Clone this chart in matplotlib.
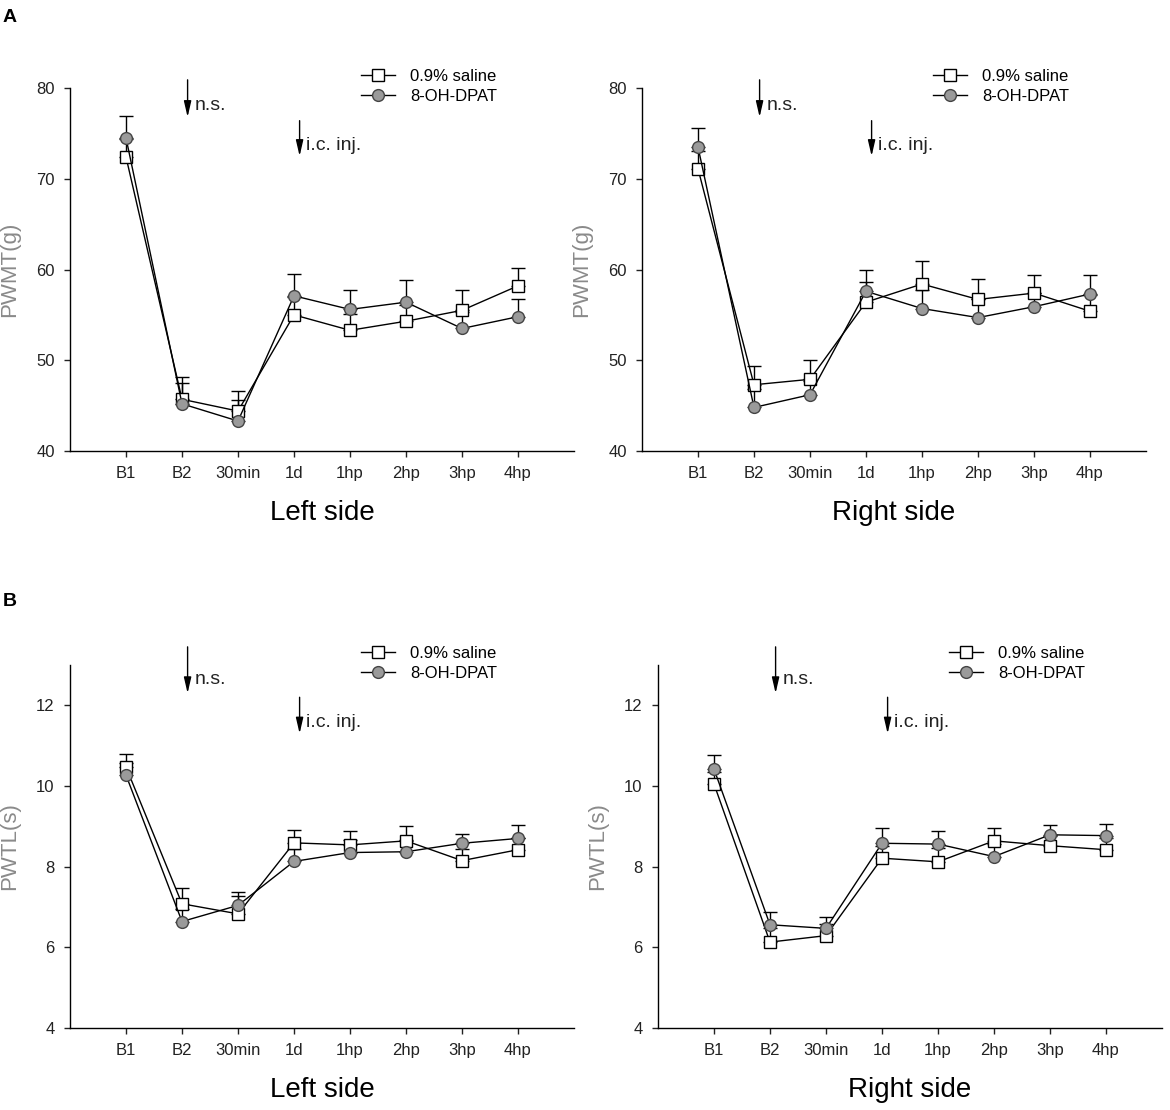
import numpy as np
import matplotlib
matplotlib.use("Agg")
import matplotlib.pyplot as plt

plt.rcParams['font.family'] = ['Liberation Sans', 'DejaVu Sans']

#--- time points (x axis)
timepoints = ["B1", "B2", "30min", "1d", "1hp", "2hp", "3hp", "4hp"]

#--- A: mechanical threshold PWMT(g), mean and upper SEM
pwmt_left_saline = [72.4, 45.7, 44.4, 55.0, 53.3, 54.3, 55.5, 58.2]
pwmt_left_saline_err = [2.0, 2.5, 2.2, 2.0, 1.8, 1.8, 2.2, 2.0]
pwmt_left_dpat = [74.5, 45.2, 43.3, 57.1, 55.6, 56.4, 53.5, 54.8]
pwmt_left_dpat_err = [2.4, 2.3, 2.3, 2.4, 2.1, 2.4, 1.8, 2.0]

pwmt_right_saline = [71.1, 47.3, 47.9, 56.4, 58.4, 56.7, 57.4, 55.4]
pwmt_right_saline_err = [2.0, 2.1, 2.1, 2.2, 2.5, 2.3, 2.0, 1.8]
pwmt_right_dpat = [73.5, 44.8, 46.2, 57.6, 55.7, 54.7, 55.9, 57.3]
pwmt_right_dpat_err = [2.1, 2.0, 1.5, 2.3, 2.0, 2.0, 1.5, 2.1]

#--- B: thermal latency PWTL(s)
pwtl_left_saline = [10.47, 7.08, 6.83, 8.59, 8.54, 8.64, 8.15, 8.42]
pwtl_left_saline_err = [0.33, 0.38, 0.45, 0.33, 0.35, 0.37, 0.30, 0.30]
pwtl_left_dpat = [10.27, 6.64, 7.04, 8.13, 8.35, 8.37, 8.58, 8.70]
pwtl_left_dpat_err = [0.30, 0.30, 0.32, 0.30, 0.30, 0.30, 0.24, 0.33]

pwtl_right_saline = [10.05, 6.13, 6.29, 8.21, 8.12, 8.64, 8.52, 8.42]
pwtl_right_saline_err = [0.30, 0.35, 0.30, 0.30, 0.35, 0.32, 0.25, 0.30]
pwtl_right_dpat = [10.42, 6.56, 6.47, 8.58, 8.56, 8.25, 8.79, 8.77]
pwtl_right_dpat_err = [0.34, 0.31, 0.28, 0.38, 0.33, 0.30, 0.24, 0.29]

#--- annotation arrows: (x, y top, y bottom, text)
arrows_a = [(2.1, 80.9, 76.8, "n.s."), (4.1, 76.4, 72.5, "i.c. inj.")]
arrows_b = [(2.1, 13.45, 12.3, "n.s."), (4.1, 12.2, 11.3, "i.c. inj.")]

#-----------------------------------------------

W, H = 1170, 1110
fig = plt.figure(figsize=(W / 100, H / 100), dpi=100)

def px_axes(x0, ytop, w, h):
    return fig.add_axes([x0 / W, 1 - (ytop + h) / H, w / W, h / H])

panels = [
    # x0, ytop, data, ylim, yticks, ylabel, title, arrows
    (70, 88, pwmt_left_saline, pwmt_left_saline_err, pwmt_left_dpat, pwmt_left_dpat_err,
     (40, 80), [40, 50, 60, 70, 80], "PWMT(g)", "Left side", arrows_a),
    (642, 88, pwmt_right_saline, pwmt_right_saline_err, pwmt_right_dpat, pwmt_right_dpat_err,
     (40, 80), [40, 50, 60, 70, 80], "PWMT(g)", "Right side", arrows_a),
    (70, 665, pwtl_left_saline, pwtl_left_saline_err, pwtl_left_dpat, pwtl_left_dpat_err,
     (4, 13), [4, 6, 8, 10, 12], "PWTL(s)", "Left side", arrows_b),
    (658, 665, pwtl_right_saline, pwtl_right_saline_err, pwtl_right_dpat, pwtl_right_dpat_err,
     (4, 13), [4, 6, 8, 10, 12], "PWTL(s)", "Right side", arrows_b),
]

x = np.arange(1, len(timepoints) + 1)

for (x0, ytop, sal, sal_err, dp, dp_err, ylim, yticks, ylabel, title, arrows) in panels:
    ax = px_axes(x0, ytop, 504, 363)

    # upward error bars only
    ax.errorbar(x, sal, yerr=[np.zeros(len(sal)), sal_err], fmt='none',
                ecolor='black', elinewidth=1, capsize=5, capthick=1, zorder=2)
    ax.errorbar(x, dp, yerr=[np.zeros(len(dp)), dp_err], fmt='none',
                ecolor='black', elinewidth=1, capsize=5, capthick=1, zorder=2)

    ax.plot(x, sal, color='black', lw=1, marker='s', ms=9, mfc='white',
            mec='black', mew=1, label='0.9% saline', zorder=3)
    ax.plot(x, dp, color='black', lw=1, marker='o', ms=8.5, mfc='#9a9a9a',
            mec='#444444', mew=1, label='8-OH-DPAT', zorder=4)

    ax.set_xlim(0, 9)
    ax.set_ylim(*ylim)
    ax.set_xticks(x)
    ax.set_xticklabels(timepoints)
    ax.set_yticks(yticks)
    ax.tick_params(axis='both', direction='out', length=4, width=1,
                   labelsize=12, colors='#222222', pad=7)
    for s in ['top', 'right']:
        ax.spines[s].set_visible(False)
    for s in ['left', 'bottom']:
        ax.spines[s].set_linewidth(1)

    ax.set_ylabel(ylabel, fontsize=16, color='#8a8a8a')
    ax.yaxis.set_label_coords(-0.098, 0.5)

    ax.text(0.5, -0.17, title, transform=ax.transAxes, ha='center', va='center',
            fontsize=20, color='black')

    for (ax_x, y1, y2, txt) in arrows:
        ax.annotate('', xy=(ax_x, y2), xytext=(ax_x, y1),
                    arrowprops=dict(arrowstyle='-|>,head_width=0.22,head_length=0.95',
                                    color='black', lw=1, shrinkA=0, shrinkB=0),
                    annotation_clip=False)
        ax.text(ax_x + 0.12, y2 + (y1 - y2) * 0.3, txt, fontsize=14,
                ha='left', va='center', color='#222222')

    ax.legend(loc='upper left', bbox_to_anchor=(0.565, 1.072), frameon=False,
              fontsize=12, handlelength=2.0, handletextpad=0.9,
              labelspacing=0.3, borderaxespad=0)

fig.text(3 / W, 1 - 18 / H, "A", fontsize=14, fontweight='bold', va='center', ha='left')
fig.text(3 / W, 1 - 601 / H, "B", fontsize=14, fontweight='bold', va='center', ha='left')

plt.savefig("out.png", dpi=100)
